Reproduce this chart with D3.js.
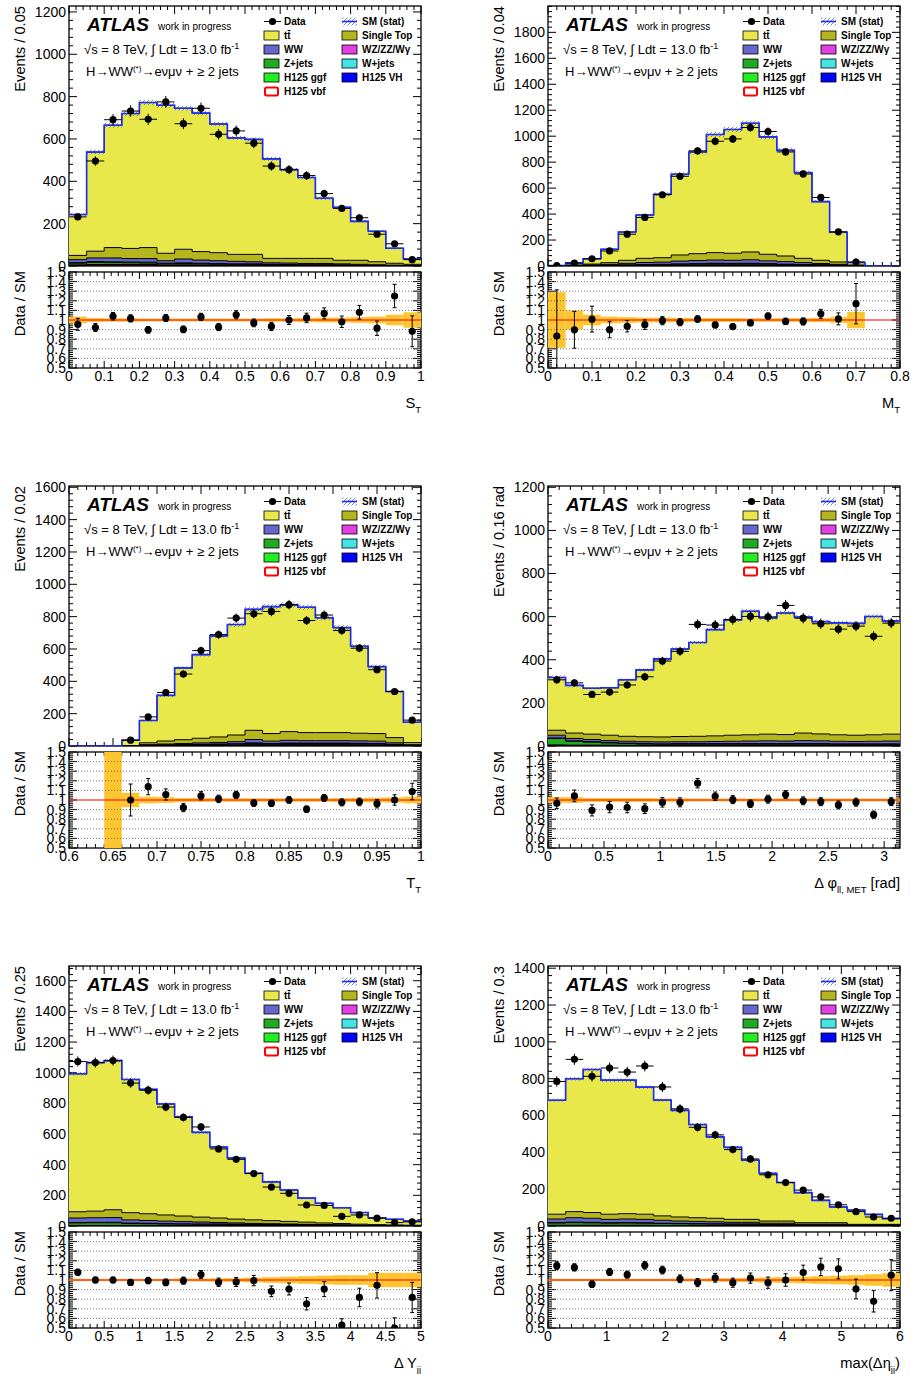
<!DOCTYPE html>
<html>
<head>
<meta charset="utf-8">
<script src="https://cdn.jsdelivr.net/npm/d3@7/dist/d3.min.js"></script>
<style>
  html, body { margin: 0; padding: 0; background: #ffffff; }
  text { font-family: "Liberation Sans", Arial, Helvetica, sans-serif; }
</style>
</head>
<body>
<svg id="chart" width="911" height="1374"></svg>
<script>
// ---------- S_T (20 bins, 0..1) ----------
const st_data      = [232, 496, 691, 732, 693, 775, 672, 745, 622, 638, 580, 472, 455, 427, 342, 272, 228, 150, 105, 30];
const st_ttbar     = [193, 468, 578, 637, 685, 699, 666, 654, 608, 550, 543, 470, 419, 382, 284, 250, 184, 144, 71, 26];
const st_singleTop = [20, 32, 49, 48, 52, 35, 46, 40, 38, 33, 35, 21, 22, 24, 24, 17, 19, 14, 9, 5];
const st_ww        = [14, 17, 18, 16, 17, 12, 18, 15, 14, 12, 10, 7, 7, 6, 6, 5, 4, 3, 2, 2];
const st_wz        = [3, 4, 4, 4, 4, 3, 3, 3, 2, 2, 2, 2, 1, 1, 1, 1, 1, 1, 1, 0];
const st_zjets     = [8, 10, 9, 8, 7, 6, 7, 6, 5, 4, 4, 3, 3, 3, 3, 2, 2, 1, 1, 1];
const st_wjets     = [2, 2, 2, 2, 2, 1, 2, 1, 1, 1, 1, 1, 1, 1, 1, 1, 0, 0, 0, 0];
const st_ggf       = [1, 1, 1, 1, 1, 1, 1, 1, 1, 1, 1, 1, 1, 0, 0, 0, 0, 0, 0, 0];
const st_vh        = [0, 1, 1, 1, 1, 0, 0, 0, 0, 0, 0, 0, 0, 0, 0, 0, 0, 0, 0, 0];
const st_vbf       = [2, 3, 3, 3, 3, 2, 2, 2, 2, 2, 2, 1, 1, 1, 1, 1, 1, 1, 0, 0];
const st_stat      = [0.035, 0.02, 0.018, 0.018, 0.015, 0.015, 0.015, 0.015, 0.015, 0.015, 0.015, 0.018, 0.018, 0.022, 0.025, 0.025, 0.03, 0.035, 0.055, 0.08];
const st_xTicks    = [0, 0.1, 0.2, 0.3, 0.4, 0.5, 0.6, 0.7, 0.8, 0.9, 1];
const st_yTicks    = [0, 200, 400, 600, 800, 1000, 1200];

// ---------- M_T (20 bins, 0..0.8) ----------
const mT_data      = [3, 22, 56, 116, 245, 374, 549, 691, 887, 961, 979, 1067, 1036, 879, 709, 528, 263, 31, 0, 0];
const mT_ttbar     = [2.6, 16.5, 40.5, 103, 218, 334, 489, 622, 783, 910, 954, 992, 905, 815, 661, 452, 229, 18.5, 0, 0];
const mT_singleTop = [0.4, 4, 7, 13, 24, 32, 34, 47, 53, 57, 54, 60, 50, 43, 33, 25, 18, 5, 0, 0];
const mT_ww        = [0.6, 2, 3, 6, 11, 15, 17, 22, 24, 25, 24, 27, 22, 20, 15, 9, 6, 2, 0, 0];
const mT_wz        = [0, 0, 1, 1, 2, 2, 3, 3, 3, 4, 4, 4, 3, 3, 2, 2, 1, 0, 0, 0];
const mT_zjets     = [0, 1, 2, 3, 4, 6, 6, 7, 8, 9, 8, 9, 7, 6, 5, 4, 3, 1, 0, 0];
const mT_wjets     = [0, 0, 1, 1, 1, 1, 1, 2, 2, 2, 2, 2, 2, 2, 1, 1, 1, 0, 0, 0];
const mT_ggf       = [0, 0, 0, 1, 1, 1, 1, 1, 1, 2, 2, 2, 2, 1, 1, 1, 1, 0, 0, 0];
const mT_vh        = [0, 0, 0, 0, 0, 0, 0, 1, 1, 1, 1, 1, 1, 0, 0, 0, 0, 0, 0, 0];
const mT_vbf       = [0, 1, 1, 1, 1, 2, 2, 2, 3, 3, 3, 3, 3, 2, 2, 2, 1, 0, 0, 0];
const mT_stat      = [0.29, 0.1, 0.055, 0.035, 0.03, 0.025, 0.025, 0.022, 0.02, 0.02, 0.02, 0.018, 0.018, 0.02, 0.02, 0.022, 0.03, 0.085, 0, 0];
const mT_xTicks    = [0, 0.1, 0.2, 0.3, 0.4, 0.5, 0.6, 0.7, 0.8];
const mT_yTicks    = [0, 200, 400, 600, 800, 1000, 1200, 1400, 1600, 1800];

// ---------- T_T (20 bins, 0.6..1) ----------
const tT_data      = [0, 0, 0, 36, 180, 331, 445, 590, 689, 791, 818, 832, 874, 776, 810, 714, 605, 472, 337, 160];
const tT_ttbar     = [0, 0, 2, 33, 138, 282, 444, 517, 625, 683, 748, 785, 784, 775, 710, 649, 538, 414, 285, 126];
const tT_singleTop = [0, 0, 0, 2, 12, 19, 24, 29, 34, 41, 57, 47, 54, 50, 50, 50, 47, 47, 32, 13];
const tT_ww        = [0, 0, 0, 1, 3, 5, 7, 9, 10, 13, 21, 15, 17, 15, 15, 15, 15, 15, 10, 3];
const tT_wz        = [0, 0, 0, 0, 1, 1, 1, 2, 2, 2, 3, 2, 3, 3, 3, 3, 3, 3, 2, 1];
const tT_zjets     = [0, 0, 0, 0, 2, 3, 3, 4, 5, 6, 8, 6, 7, 7, 7, 7, 7, 6, 4, 2];
const tT_wjets     = [0, 0, 0, 0, 1, 1, 1, 1, 1, 2, 2, 2, 2, 2, 2, 2, 2, 2, 1, 1];
const tT_ggf       = [0, 0, 0, 0, 0, 1, 1, 1, 1, 1, 2, 1, 2, 2, 2, 2, 1, 1, 1, 0];
const tT_vh        = [0, 0, 0, 0, 0, 0, 0, 0, 1, 1, 1, 1, 1, 1, 1, 1, 1, 0, 0, 0];
const tT_vbf       = [0, 0, 0, 0, 1, 1, 2, 2, 2, 2, 3, 3, 3, 3, 3, 3, 3, 3, 2, 1];
const tT_stat      = [0, 0, 0.95, 0.075, 0.035, 0.03, 0.02, 0.02, 0.018, 0.018, 0.018, 0.018, 0.018, 0.018, 0.018, 0.02, 0.022, 0.025, 0.028, 0.035];
const tT_xTicks    = [0.6, 0.65, 0.7, 0.75, 0.8, 0.85, 0.9, 0.95, 1];
const tT_yTicks    = [0, 200, 400, 600, 800, 1000, 1200, 1400, 1600];

// ---------- delta phi(ll, MET) (20 bins, 0..pi) ----------
const dPhi_data      = [307, 293, 239, 250, 283, 321, 394, 439, 564, 561, 587, 601, 599, 652, 593, 567, 542, 556, 509, 570];
const dPhi_ttbar     = [245, 221, 213, 220, 262, 310, 362, 406, 435, 493, 535, 573, 539, 564, 538, 521, 519, 519, 549, 525];
const dPhi_singleTop = [23, 25, 25, 25, 23, 23, 23, 24, 25, 26, 28, 29, 31, 30, 35, 32, 30, 29, 30, 32];
const dPhi_ww        = [13, 11, 10, 9, 9, 9, 9, 9, 9, 10, 11, 12, 13, 12, 14, 13, 12, 11, 12, 13];
const dPhi_wz        = [2, 2, 2, 2, 2, 2, 2, 2, 2, 2, 2, 2, 2, 2, 2, 2, 2, 2, 2, 2];
const dPhi_zjets     = [30, 18, 14, 10, 8, 6, 5, 5, 5, 5, 5, 5, 5, 5, 5, 5, 4, 4, 4, 4];
const dPhi_wjets     = [3, 2, 2, 2, 1, 1, 1, 1, 1, 1, 1, 1, 1, 1, 1, 1, 1, 1, 1, 1];
const dPhi_ggf       = [1, 1, 1, 1, 1, 1, 1, 1, 1, 1, 1, 1, 1, 1, 1, 1, 1, 1, 1, 1];
const dPhi_vh        = [0, 0, 0, 0, 0, 0, 0, 0, 0, 0, 0, 0, 0, 0, 0, 0, 0, 0, 0, 0];
const dPhi_vbf       = [1, 1, 1, 1, 1, 1, 1, 2, 2, 2, 2, 2, 2, 2, 2, 2, 2, 2, 2, 2];
const dPhi_stat      = [0.03, 0.03, 0.02, 0.02, 0.02, 0.02, 0.018, 0.018, 0.015, 0.015, 0.015, 0.015, 0.015, 0.015, 0.015, 0.015, 0.015, 0.015, 0.015, 0.015];
const dPhi_xTicks    = [0, 0.5, 1, 1.5, 2, 2.5, 3];
const dPhi_yTicks    = [0, 200, 400, 600, 800, 1000, 1200];

// ---------- delta Y_jj (20 bins, 0..5) ----------
const dY_data      = [1073, 1066, 1079, 932, 886, 776, 708, 646, 503, 435, 342, 254, 213, 137, 134, 63, 72, 51, 22, 27];
const dY_ttbar     = [900, 969, 973, 869, 811, 724, 648, 553, 463, 399, 304, 253, 205, 157, 128, 103, 76, 45, 37, 28];
const dY_singleTop = [41, 43, 51, 47, 44, 40, 36, 32, 29, 25, 23, 20, 17, 14, 11, 9, 7, 5, 4, 3];
const dY_ww        = [29, 30, 31, 21, 18, 17, 15, 13, 10, 8, 7, 6, 4, 3, 2, 1, 1, 1, 1, 0];
const dY_wz        = [3, 3, 3, 3, 3, 2, 2, 2, 2, 2, 1, 1, 1, 1, 1, 1, 1, 0, 0, 0];
const dY_zjets     = [16, 17, 17, 12, 11, 10, 9, 8, 7, 6, 5, 4, 4, 3, 2, 2, 1, 1, 0, 0];
const dY_wjets     = [2, 2, 2, 2, 2, 1, 1, 1, 1, 1, 1, 1, 1, 1, 1, 1, 0, 0, 0, 0];
const dY_ggf       = [1, 1, 1, 1, 1, 1, 1, 1, 1, 1, 1, 1, 1, 1, 1, 0, 0, 0, 0, 0];
const dY_vh        = [0, 0, 0, 0, 0, 0, 0, 0, 0, 0, 0, 0, 0, 0, 0, 0, 0, 0, 0, 0];
const dY_vbf       = [1, 1, 1, 1, 1, 1, 1, 1, 2, 2, 2, 2, 2, 2, 2, 2, 2, 2, 2, 2];
const dY_stat      = [0.012, 0.012, 0.012, 0.012, 0.012, 0.012, 0.015, 0.015, 0.018, 0.02, 0.025, 0.03, 0.035, 0.04, 0.045, 0.05, 0.05, 0.075, 0.075, 0.075];
const dY_xTicks    = [0, 0.5, 1, 1.5, 2, 2.5, 3, 3.5, 4, 4.5, 5];
const dY_yTicks    = [0, 200, 400, 600, 800, 1000, 1200, 1400, 1600];

// ---------- max(delta eta_jj) (20 bins, 0..6) ----------
const dEta_data      = [785, 905, 813, 858, 836, 869, 755, 636, 536, 495, 415, 364, 278, 236, 195, 158, 115, 78, 49, 42];
const dEta_ttbar     = [619, 722, 777, 728, 725, 690, 629, 579, 506, 442, 391, 321, 259, 209, 163, 121, 85, 77, 54, 31];
const dEta_singleTop = [26, 33, 31, 28, 29, 28, 24, 22, 20, 19, 16, 16, 12, 12, 8, 8, 8, 4, 4, 4];
const dEta_ww        = [19, 24, 22, 18, 19, 18, 16, 13, 12, 11, 9, 9, 6, 6, 4, 4, 4, 1, 1, 1];
const dEta_wz        = [3, 3, 3, 3, 3, 3, 2, 2, 2, 2, 2, 2, 2, 2, 1, 1, 1, 1, 1, 1];
const dEta_zjets     = [12, 14, 13, 11, 12, 11, 10, 9, 8, 7, 6, 6, 5, 5, 3, 3, 3, 2, 2, 2];
const dEta_wjets     = [2, 2, 2, 2, 2, 2, 1, 1, 1, 1, 1, 1, 1, 1, 1, 1, 1, 0, 0, 0];
const dEta_ggf       = [1, 1, 1, 1, 1, 1, 1, 1, 1, 1, 1, 1, 0, 0, 0, 0, 0, 0, 0, 0];
const dEta_vh        = [0, 0, 0, 0, 0, 0, 0, 0, 0, 0, 0, 0, 0, 0, 0, 0, 0, 0, 0, 0];
const dEta_vbf       = [1, 1, 1, 1, 1, 1, 1, 1, 1, 1, 1, 1, 1, 1, 1, 1, 1, 1, 1, 1];
const dEta_stat      = [0.012, 0.012, 0.012, 0.012, 0.012, 0.012, 0.012, 0.015, 0.015, 0.018, 0.02, 0.022, 0.028, 0.03, 0.035, 0.04, 0.045, 0.05, 0.06, 0.07];
const dEta_xTicks    = [0, 1, 2, 3, 4, 5, 6];
const dEta_yTicks    = [0, 200, 400, 600, 800, 1000, 1200, 1400];

// ratio pad axis labels
const ratioTicks = [0.5, 0.6, 0.7, 0.8, 0.9, 1, 1.1, 1.2, 1.3, 1.4, 1.5];

// ---------- styling ----------
const COLORS = {
  ttbar: '#e8e84a', singleTop: '#b5b51e', ww: '#6666cc', wz: '#e040e0',
  zjets: '#22aa22', wjets: '#44e4e4', ggf: '#22ee22', vh: '#0000ff', vbf: '#ffffff'
};
const STACK = ['vbf', 'vh', 'ggf', 'wjets', 'zjets', 'wz', 'ww', 'singleTop', 'ttbar']; // bottom -> top
const BAND = '#fdc530';
const SMLINE = '#1a2cff';

const FW = 352;                     // frame width
const MAIN_T = 6, MAIN_B = 266;     // main pad (row-relative)
const RAT_T = 272, RAT_B = 368;     // ratio pad (row-relative)
const COL_X = [69, 548];
const ROW_Y = [0, 480, 960];

function comps(prefix) {
  const src = {
    st: [st_ttbar, st_singleTop, st_ww, st_wz, st_zjets, st_wjets, st_ggf, st_vh, st_vbf],
    mT: [mT_ttbar, mT_singleTop, mT_ww, mT_wz, mT_zjets, mT_wjets, mT_ggf, mT_vh, mT_vbf],
    tT: [tT_ttbar, tT_singleTop, tT_ww, tT_wz, tT_zjets, tT_wjets, tT_ggf, tT_vh, tT_vbf],
    dPhi: [dPhi_ttbar, dPhi_singleTop, dPhi_ww, dPhi_wz, dPhi_zjets, dPhi_wjets, dPhi_ggf, dPhi_vh, dPhi_vbf],
    dY: [dY_ttbar, dY_singleTop, dY_ww, dY_wz, dY_zjets, dY_wjets, dY_ggf, dY_vh, dY_vbf],
    dEta: [dEta_ttbar, dEta_singleTop, dEta_ww, dEta_wz, dEta_zjets, dEta_wjets, dEta_ggf, dEta_vh, dEta_vbf]
  }[prefix];
  const keys = ['ttbar', 'singleTop', 'ww', 'wz', 'zjets', 'wjets', 'ggf', 'vh', 'vbf'];
  const o = {};
  keys.forEach((k, i) => { o[k] = src[i]; });
  return o;
}

const panels = [
  { col: 0, row: 0, xMin: 0, xMax: 1, yMax: 1228, xMinor: 0.02, yMinor: 40,
    xTicks: st_xTicks, yTicks: st_yTicks, data: st_data, comps: comps('st'), stat: st_stat,
    yTitle: 'Events / 0.05', xTitle: [['S', 0], ['T', 1]] },
  { col: 1, row: 0, xMin: 0, xMax: 0.8, yMax: 2003, xMinor: 0.02, yMinor: 40,
    xTicks: mT_xTicks, yTicks: mT_yTicks, data: mT_data, comps: comps('mT'), stat: mT_stat,
    yTitle: 'Events / 0.04', xTitle: [['M', 0], ['T', 1]] },
  { col: 0, row: 1, xMin: 0.6, xMax: 1, yMax: 1608, xMinor: 0.01, yMinor: 40,
    xTicks: tT_xTicks, yTicks: tT_yTicks, data: tT_data, comps: comps('tT'), stat: tT_stat,
    yTitle: 'Events / 0.02', xTitle: [['T', 0], ['T', 1]] },
  { col: 1, row: 1, xMin: 0, xMax: Math.PI, yMax: 1206, xMinor: 0.1, yMinor: 40,
    xTicks: dPhi_xTicks, yTicks: dPhi_yTicks, data: dPhi_data, comps: comps('dPhi'), stat: dPhi_stat,
    yTitle: 'Events / 0.16 rad', xTitle: [['Δ φ', 0], ['ll, MET', 1], [' [rad]', 0]] },
  { col: 0, row: 2, xMin: 0, xMax: 5, yMax: 1696, xMinor: 0.1, yMinor: 40,
    xTicks: dY_xTicks, yTicks: dY_yTicks, data: dY_data, comps: comps('dY'), stat: dY_stat,
    yTitle: 'Events / 0.25', xTitle: [['Δ Y', 0], ['jj', 1]] },
  { col: 1, row: 2, xMin: 0, xMax: 6, yMax: 1412, xMinor: 0.2, yMinor: 40,
    xTicks: dEta_xTicks, yTicks: dEta_yTicks, data: dEta_data, comps: comps('dEta'), stat: dEta_stat,
    yTitle: 'Events / 0.3', xTitle: [['max(Δη', 0], ['jj', 1], [')', 0]] }
];

// ---------- drawing ----------
const svg = d3.select('#chart');
svg.append('rect').attr('width', 911).attr('height', 1374).attr('fill', '#ffffff');
const defs = svg.append('defs');
const hatch = defs.append('pattern').attr('id', 'hatch')
  .attr('patternUnits', 'userSpaceOnUse').attr('width', 4).attr('height', 4);
hatch.append('path').attr('d', 'M-1,1 L1,-1 M0,4 L4,0 M3,5 L5,3')
  .attr('stroke', '#6f6f8f').attr('stroke-width', 0.8);

function rangeStep(a, b, step) {
  const k = Math.round((b - a) / step);
  return d3.range(k + 1).map(i => a + i * step).filter(v => v <= b + 1e-9);
}
function notIn(vals, majors) {
  return vals.filter(v => !majors.some(m => Math.abs(m - v) < 1e-9));
}
function fmt(v) { return String(+v.toFixed(4)); }

function yTickMarks(g, scale, majors, minors, len, mlen) {
  const add = (v, L) => {
    const yy = scale(v);
    g.append('line').attr('x1', 0).attr('x2', L).attr('y1', yy).attr('y2', yy);
    g.append('line').attr('x1', FW).attr('x2', FW - L).attr('y1', yy).attr('y2', yy);
  };
  majors.forEach(v => add(v, len));
  minors.forEach(v => add(v, mlen));
}
function xTickMarks(g, scale, majors, minors, yTop, yBot, len, mlen) {
  const add = (v, L) => {
    const xx = scale(v);
    g.append('line').attr('x1', xx).attr('x2', xx).attr('y1', yTop).attr('y2', yTop + L);
    g.append('line').attr('x1', xx).attr('x2', xx).attr('y1', yBot).attr('y2', yBot - L);
  };
  majors.forEach(v => add(v, len));
  minors.forEach(v => add(v, mlen));
}

function drawLegend(g) {
  const cy = r => 21.5 + 14 * r;
  const c1 = 195, c1t = 215, c2 = 273, c2t = 293;
  const entries = [
    { c: 0, r: 0, type: 'data', label: 'Data' },
    { c: 1, r: 0, type: 'stat', label: 'SM (stat)' },
    { c: 0, r: 1, type: 'box', key: 'ttbar', label: 'tt\u0304' },
    { c: 1, r: 1, type: 'box', key: 'singleTop', label: 'Single Top' },
    { c: 0, r: 2, type: 'box', key: 'ww', label: 'WW' },
    { c: 1, r: 2, type: 'box', key: 'wz', label: 'WZ/ZZ/Wγ' },
    { c: 0, r: 3, type: 'box', key: 'zjets', label: 'Z+jets' },
    { c: 1, r: 3, type: 'box', key: 'wjets', label: 'W+jets' },
    { c: 0, r: 4, type: 'box', key: 'ggf', label: 'H125 ggf' },
    { c: 1, r: 4, type: 'box', key: 'vh', label: 'H125 VH' },
    { c: 0, r: 5, type: 'box', key: 'vbf', label: 'H125 vbf' }
  ];
  entries.forEach(e => {
    const bx = e.c === 0 ? c1 : c2;
    const tx = e.c === 0 ? c1t : c2t;
    const yc = cy(e.r);
    if (e.type === 'data') {
      g.append('line').attr('x1', bx).attr('x2', bx + 17).attr('y1', yc).attr('y2', yc)
        .attr('stroke', '#000').attr('stroke-width', 1);
      g.append('circle').attr('cx', bx + 8.5).attr('cy', yc).attr('r', 3.6).attr('fill', '#000');
    } else if (e.type === 'stat') {
      g.append('rect').attr('x', bx).attr('y', yc - 4).attr('width', 15).attr('height', 8)
        .attr('fill', 'url(#hatch)');
      g.append('line').attr('x1', bx).attr('x2', bx + 15).attr('y1', yc).attr('y2', yc)
        .attr('stroke', SMLINE).attr('stroke-width', 1.6);
    } else {
      const red = e.key === 'vbf';
      g.append('rect').attr('x', bx + (red ? 1 : 0)).attr('y', yc - 4.5 + (red ? 0.5 : 0))
        .attr('width', red ? 13 : 15).attr('height', red ? 8 : 9)
        .attr('rx', red ? 1.5 : 0)
        .attr('fill', COLORS[e.key]).attr('stroke', red ? '#ff0000' : '#000')
        .attr('stroke-width', red ? 2 : 0.8);
    }
    g.append('text').attr('x', tx).attr('y', yc + 3.7).attr('font-size', 10)
      .attr('font-weight', 'bold').attr('fill', '#000').text(e.label);
  });

  // experiment label and run conditions
  const atlas = g.append('text').attr('x', 18).attr('y', 31);
  atlas.append('tspan').attr('font-size', 19).attr('font-weight', 'bold')
    .attr('font-style', 'italic').text('ATLAS');
  g.append('text').attr('x', 89).attr('y', 30).attr('font-size', 10).text('work in progress');

  const lumi = g.append('text').attr('x', 15).attr('y', 54).attr('font-size', 13);
  lumi.append('tspan').text('√s = 8 TeV, ∫ Ldt = 13.0 fb');
  lumi.append('tspan').attr('font-size', 9).attr('dy', -5).text('-1');

  const proc = g.append('text').attr('x', 17).attr('y', 76).attr('font-size', 13);
  proc.append('tspan').text('H→WW');
  proc.append('tspan').attr('font-size', 8).attr('dy', -5).text('(*)');
  proc.append('tspan').attr('dy', 5).text('→eνμν + ≥ 2 jets');
}

panels.forEach((p, idx) => {
  const ox = COL_X[p.col], oy = ROW_Y[p.row];
  const g = svg.append('g').attr('transform', `translate(${ox},${oy})`);
  const n = p.data.length;
  const bw = (p.xMax - p.xMin) / n;
  const lo = i => p.xMin + i * bw;
  const hi = i => p.xMin + (i + 1) * bw;

  const x = d3.scaleLinear().domain([p.xMin, p.xMax]).range([0, FW]);
  const y = d3.scaleLinear().domain([0, p.yMax]).range([MAIN_B, MAIN_T]);
  const r = d3.scaleLinear().domain([0.5, 1.5]).range([RAT_B, RAT_T]);

  defs.append('clipPath').attr('id', 'cm' + idx).append('rect')
    .attr('x', ox).attr('y', oy + MAIN_T).attr('width', FW).attr('height', MAIN_B - MAIN_T);
  defs.append('clipPath').attr('id', 'cr' + idx).append('rect')
    .attr('x', ox).attr('y', oy + RAT_T).attr('width', FW).attr('height', RAT_B - RAT_T);

  // ----- main pad: stacked backgrounds -----
  const mainG = svg.append('g').attr('clip-path', `url(#cm${idx})`)
    .append('g').attr('transform', `translate(${ox},${oy})`);
  let base = new Array(n).fill(0);
  const layers = [];
  STACK.forEach(k => {
    const v = p.comps[k];
    const top = base.map((b, i) => b + v[i]);
    layers.push({ k, base, top });
    base = top;
  });
  const total = base;

  const stepPts = arr => d3.range(n + 1).map(i => [x(i < n ? lo(i) : p.xMax), y(arr[Math.min(i, n - 1)])]);
  const stepLine = d3.line().curve(d3.curveStepAfter);

  layers.forEach(L => {
    const pts = d3.range(n + 1).map(i => ({
      x: i < n ? lo(i) : p.xMax, b: L.base[Math.min(i, n - 1)], t: L.top[Math.min(i, n - 1)]
    }));
    const area = d3.area().curve(d3.curveStepAfter)
      .x(d => x(d.x)).y0(d => y(d.b)).y1(d => y(d.t));
    mainG.append('path').attr('d', area(pts)).attr('fill', COLORS[L.k]);
  });
  layers.forEach(L => {
    mainG.append('path').attr('d', stepLine(stepPts(L.top))).attr('fill', 'none')
      .attr('stroke', L.k === 'vbf' ? '#e00000' : '#000').attr('stroke-width', L.k === 'vbf' ? 1.5 : 1);
  });

  // MC statistical uncertainty (hatched) and total
  d3.range(n).forEach(i => {
    if (total[i] <= 0 || p.stat[i] <= 0) return;
    const yt = y(total[i] * (1 + p.stat[i])), yb = y(total[i] * (1 - p.stat[i]));
    mainG.append('rect').attr('x', x(lo(i))).attr('width', x(hi(i)) - x(lo(i)))
      .attr('y', yt).attr('height', Math.max(yb - yt, 1.5)).attr('fill', 'url(#hatch)');
  });
  mainG.append('path').attr('d', stepLine(stepPts(total))).attr('fill', 'none')
    .attr('stroke', SMLINE).attr('stroke-width', 1.6);

  // data points
  d3.range(n).forEach(i => {
    const d = p.data[i];
    if (d <= 0) return;
    const cx = x((lo(i) + hi(i)) / 2), cy = y(d), e = Math.sqrt(d);
    mainG.append('line').attr('x1', x(lo(i))).attr('x2', x(hi(i))).attr('y1', cy).attr('y2', cy)
      .attr('stroke', '#000').attr('stroke-width', 1);
    mainG.append('line').attr('x1', cx).attr('x2', cx).attr('y1', y(d + e)).attr('y2', y(d - e))
      .attr('stroke', '#000').attr('stroke-width', 1);
    mainG.append('circle').attr('cx', cx).attr('cy', cy).attr('r', 3.6).attr('fill', '#000');
  });

  // ----- ratio pad -----
  const ratG = svg.append('g').attr('clip-path', `url(#cr${idx})`)
    .append('g').attr('transform', `translate(${ox},${oy})`);
  d3.range(n).forEach(i => {
    if (total[i] <= 0 || p.stat[i] <= 0) return;
    ratG.append('rect').attr('x', x(lo(i))).attr('width', x(hi(i)) - x(lo(i)))
      .attr('y', r(1 + p.stat[i])).attr('height', r(1 - p.stat[i]) - r(1 + p.stat[i]))
      .attr('fill', BAND);
  });
  ratioTicks.filter(v => v > 0.5 && v < 1.5 && v !== 1).forEach(v => {
    ratG.append('line').attr('x1', 0).attr('x2', FW).attr('y1', r(v)).attr('y2', r(v))
      .attr('stroke', '#555').attr('stroke-width', 0.8).attr('stroke-dasharray', '1,2');
  });
  ratG.append('line').attr('x1', 0).attr('x2', FW).attr('y1', r(1)).attr('y2', r(1))
    .attr('stroke', '#ff0000').attr('stroke-width', 1.2);
  d3.range(n).forEach(i => {
    const d = p.data[i], m = total[i];
    if (d <= 0 || m <= 0) return;
    const q = d / m, e = Math.sqrt(d) / m;
    const cx = x((lo(i) + hi(i)) / 2);
    ratG.append('line').attr('x1', cx).attr('x2', cx).attr('y1', r(q + e)).attr('y2', r(q - e))
      .attr('stroke', '#000').attr('stroke-width', 1);
    [q + e, q - e].forEach(v => {
      ratG.append('line').attr('x1', cx - 2).attr('x2', cx + 2).attr('y1', r(v)).attr('y2', r(v))
        .attr('stroke', '#000').attr('stroke-width', 1);
    });
    ratG.append('circle').attr('cx', cx).attr('cy', r(q)).attr('r', 3.6).attr('fill', '#000');
  });

  // ----- frames and ticks -----
  const axG = g.append('g').attr('stroke', '#000').attr('stroke-width', 1);
  const xMinors = notIn(rangeStep(p.xMin, p.xMax, p.xMinor), p.xTicks);
  const yMinors = notIn(rangeStep(0, p.yMax, p.yMinor), p.yTicks);
  yTickMarks(axG, y, p.yTicks, yMinors, 8, 4);
  xTickMarks(axG, x, p.xTicks, xMinors, MAIN_T, MAIN_B, 8, 4);
  const rMinors = notIn(rangeStep(0.5, 1.5, 0.02), ratioTicks);
  yTickMarks(axG, r, ratioTicks, rMinors, 8, 4);
  xTickMarks(axG, x, p.xTicks, xMinors, RAT_T, RAT_B, 7, 4);
  g.append('rect').attr('x', 0).attr('y', MAIN_T).attr('width', FW).attr('height', MAIN_B - MAIN_T)
    .attr('fill', 'none').attr('stroke', '#000').attr('stroke-width', 1.3);
  g.append('rect').attr('x', 0).attr('y', RAT_T).attr('width', FW).attr('height', RAT_B - RAT_T)
    .attr('fill', 'none').attr('stroke', '#000').attr('stroke-width', 1.3);

  // tick labels
  p.yTicks.forEach(v => {
    g.append('text').attr('x', -3).attr('y', y(v)).attr('dy', '0.35em')
      .attr('text-anchor', 'end').attr('font-size', 14).text(fmt(v));
  });
  ratioTicks.forEach(v => {
    g.append('text').attr('x', -3).attr('y', r(v)).attr('dy', '0.35em')
      .attr('text-anchor', 'end').attr('font-size', 14).text(fmt(v));
  });
  p.xTicks.forEach(v => {
    g.append('text').attr('x', x(v)).attr('y', RAT_B + 13)
      .attr('text-anchor', 'middle').attr('font-size', 14).text(fmt(v));
  });

  // axis titles
  g.append('text').attr('transform', `translate(-44,${MAIN_T}) rotate(-90)`)
    .attr('text-anchor', 'end').attr('font-size', 14.7).text(p.yTitle);
  g.append('text').attr('transform', `translate(-44,${RAT_T - 1}) rotate(-90)`)
    .attr('text-anchor', 'end').attr('font-size', 14.7).text('Data / SM');
  const xt = g.append('text').attr('x', FW).attr('y', 408).attr('text-anchor', 'end').attr('font-size', 14.7);
  let shifted = false;
  p.xTitle.forEach(([s, sub]) => {
    const t = xt.append('tspan').text(s);
    if (sub) { t.attr('font-size', 9.5).attr('dy', 5); shifted = true; }
    else if (shifted) { t.attr('dy', -5); shifted = false; }
  });

  drawLegend(g);
});
</script>
</body>
</html>
